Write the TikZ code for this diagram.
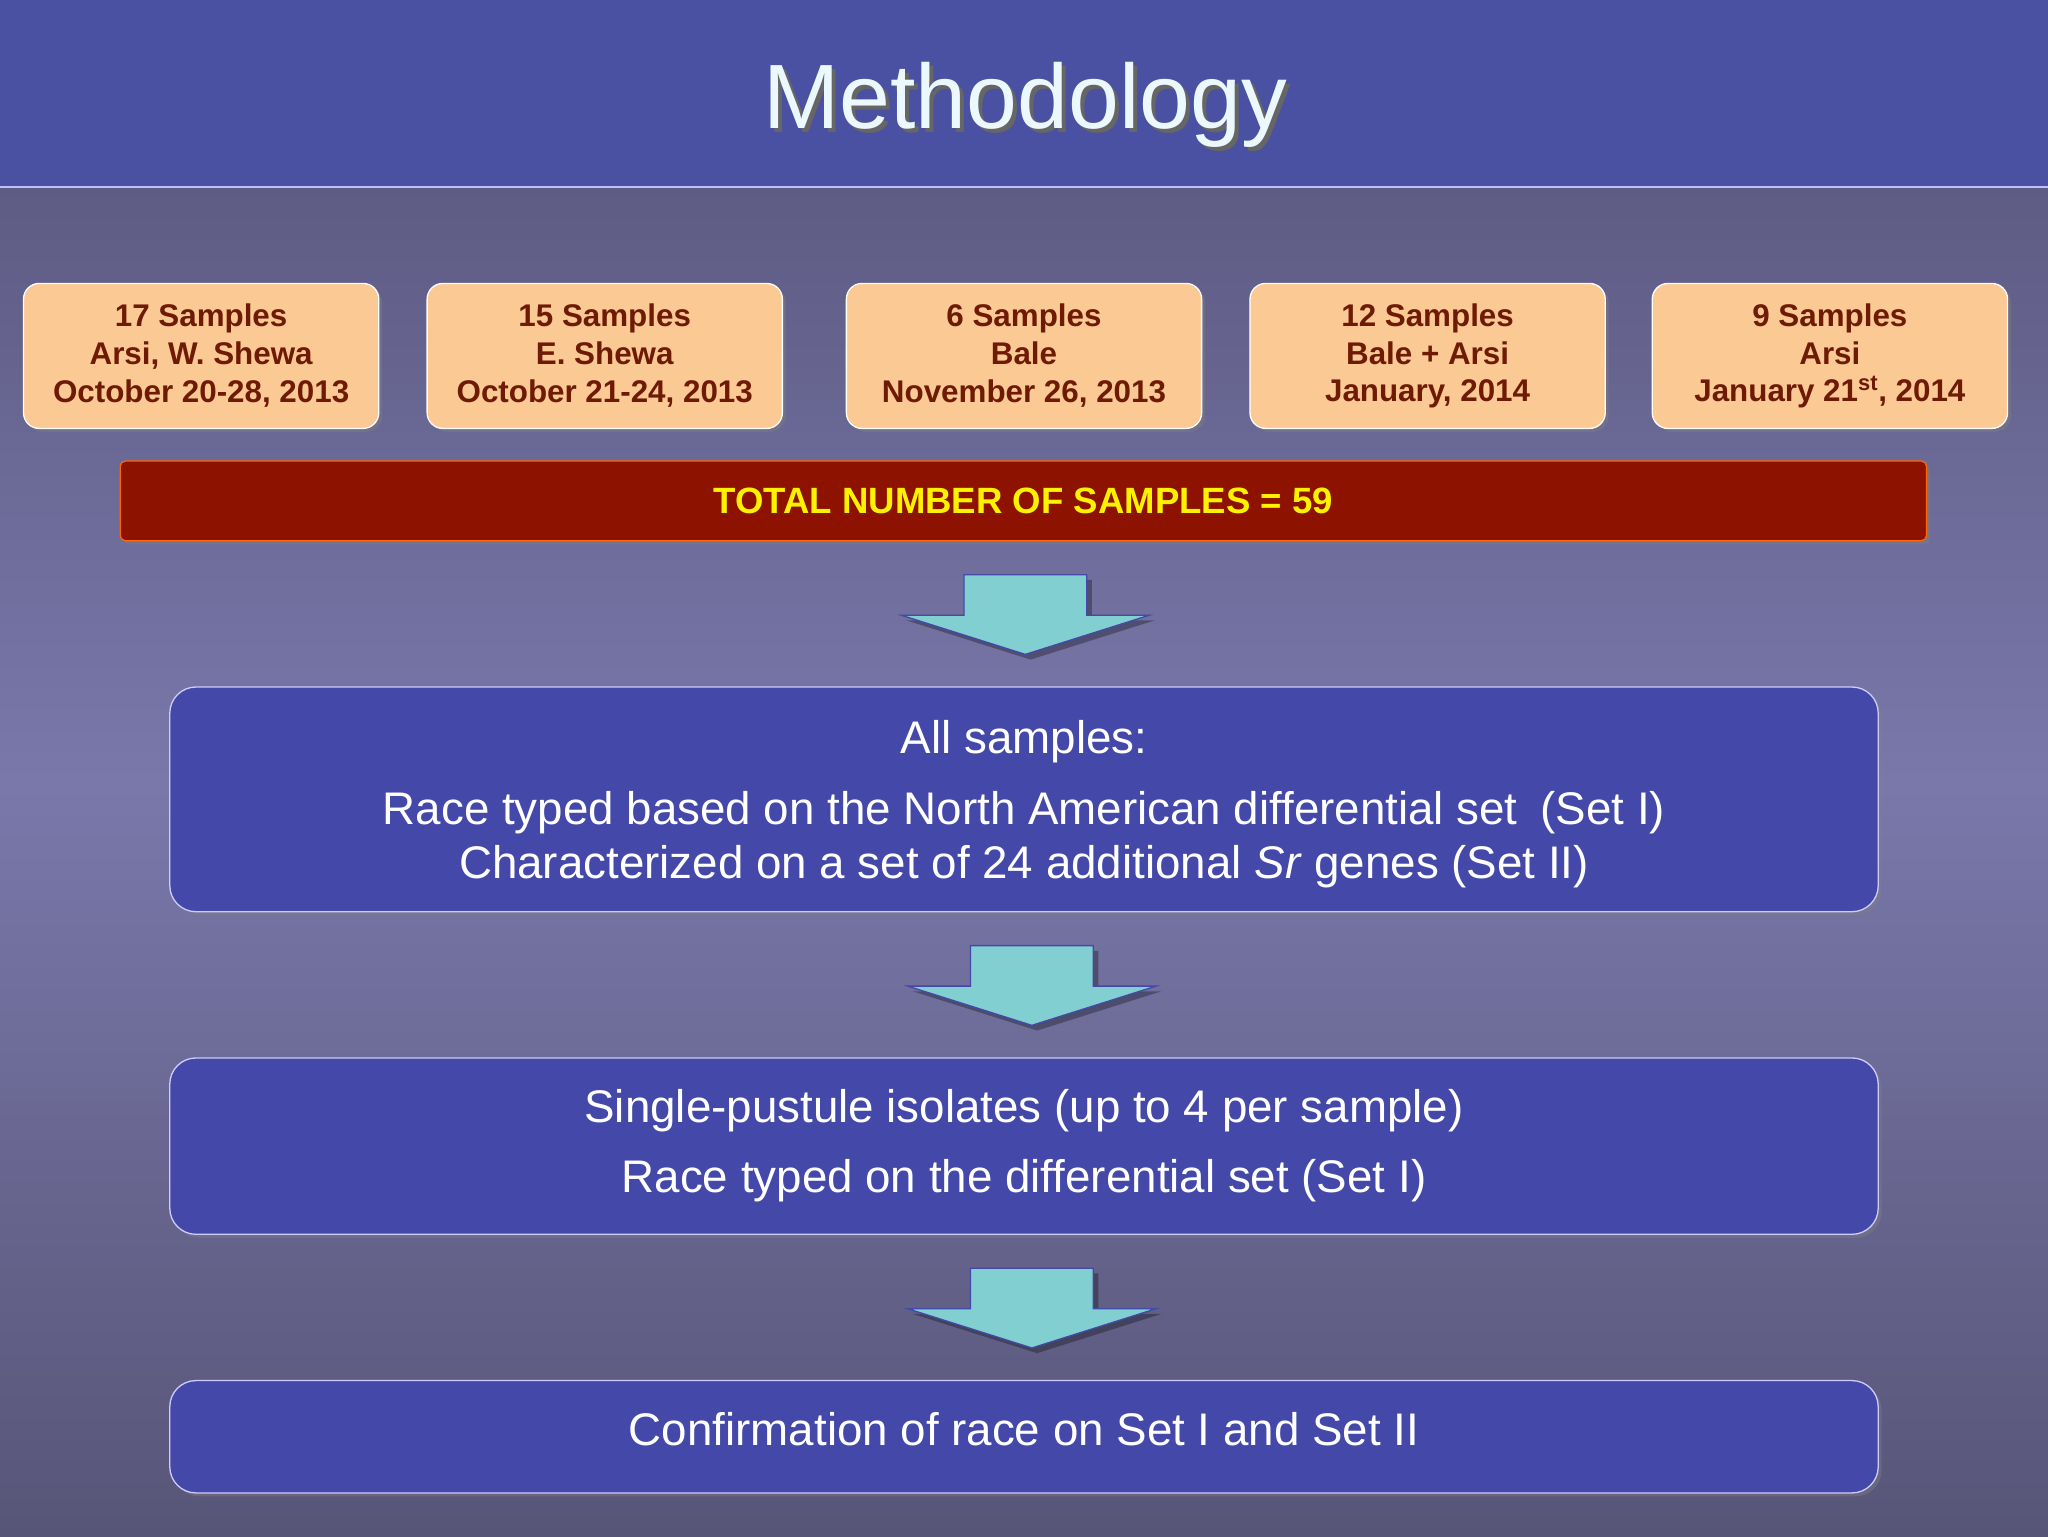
\documentclass[tikz,border=0pt]{standalone}
\usepackage{fontspec}
\setmainfont{Liberation Sans}
\usetikzlibrary{shadows}
\definecolor{topband}{HTML}{4A50A2}
\definecolor{bgtop}{HTML}{5E5C84}
\definecolor{bgmid}{HTML}{7A78AA}
\definecolor{bgbot}{HTML}{575577}
\definecolor{sampfill}{HTML}{FBC994}
\definecolor{samptext}{HTML}{6E1A05}
\definecolor{totfill}{HTML}{8E1200}
\definecolor{boxfill}{HTML}{4448A8}
\definecolor{arrfill}{HTML}{82CFD2}
\tikzset{
 x=1pt,y=-1pt,
 samp/.style={draw=white,line width=1pt,fill=sampfill,rounded corners=12pt,minimum width=272pt,minimum height=111pt,text=samptext,font=\fontsize{24}{29}\selectfont\bfseries,align=center,drop shadow={opacity=0.4}},
 bigbox/.style={draw=white!80!blue,line width=1pt,fill=boxfill,rounded corners=20pt,minimum width=1308pt,text=white,font=\fontsize{35}{41}\selectfont,align=center,drop shadow={opacity=0.4}},
 btext/.style={text=white,font=\fontsize{35}{41}\selectfont,align=center},
 blockarr/.style={fill=arrfill,draw=boxfill,line width=1pt}
}
\begin{document}
\begin{tikzpicture}
\useasboundingbox (0,0) rectangle (1568,1176);
\shade[top color=bgtop,bottom color=bgmid] (0,143) rectangle (1568,600);
\shade[top color=bgmid,bottom color=bgbot] (0,600) rectangle (1568,1176);
\fill[topband] (0,0) rectangle (1568,143);
\draw[white!75!blue,line width=1.5pt] (0,143) -- (1568,143);
\node[text=black!60,font=\fontsize{70}{80}\selectfont] at (788,83) {Methodology};
\node (title) [text=white!92!cyan,font=\fontsize{70}{80}\selectfont] at (785,80) {Methodology};

\node[samp] (s1) at (154,272.5) {17 Samples\\Arsi, W. Shewa\\October 20-28, 2013};
\node[samp] (s2) at (463,272.5) {15 Samples\\E. Shewa\\October 21-24, 2013};
\node[samp] (s3) at (784,272.5) {6 Samples\\Bale\\November 26, 2013};
\node[samp] (s4) at (1093,272.5) {12 Samples\\Bale + Arsi\\January, 2014};
\node[samp] (s5) at (1401,272.5) {9 Samples\\Arsi\\January 21\textsuperscript{st}, 2014};

\node (tot) [draw=orange!80!red,line width=1pt,fill=totfill,rounded corners=4pt,minimum width=1383pt,minimum height=61pt,text=yellow,font=\fontsize{28}{30}\selectfont\bfseries,drop shadow={opacity=0.4}] at (783.5,383.5) {TOTAL NUMBER OF SAMPLES = 59};

\node[bigbox,minimum height=172pt] (b1) at (784,612) {};
\node[btext] at (784,568) {All samples:};
\node[btext] at (784,643) {Race typed based on the North American differential set\enspace(Set I)\\Characterized on a set of 24 additional \textit{Sr} genes (Set II)};

\node[bigbox,minimum height=135pt] (b2) at (784,877.5) {};
\node[btext] at (784,850) {Single-pustule isolates (up to 4 per sample)};
\node[btext] at (784,904) {Race typed on the differential set (Set I)};

\node[bigbox,minimum height=86pt] (b3) at (784,1100) {};
\node[btext] at (784,1094) {Confirmation of race on Set I and Set II};

\foreach \cx/\ty in {785/440, 790/724, 790/971}{
 \fill[black,opacity=0.3,xshift=4pt,yshift=-4pt] (\cx-47,\ty) -- (\cx+47,\ty) -- (\cx+47,\ty+31) -- (\cx+95,\ty+31) -- (\cx,\ty+61) -- (\cx-95,\ty+31) -- (\cx-47,\ty+31) -- cycle;
 \path[blockarr] (\cx-47,\ty) -- (\cx+47,\ty) -- (\cx+47,\ty+31) -- (\cx+95,\ty+31) -- (\cx,\ty+61) -- (\cx-95,\ty+31) -- (\cx-47,\ty+31) -- cycle;
}
\end{tikzpicture}
\end{document}
